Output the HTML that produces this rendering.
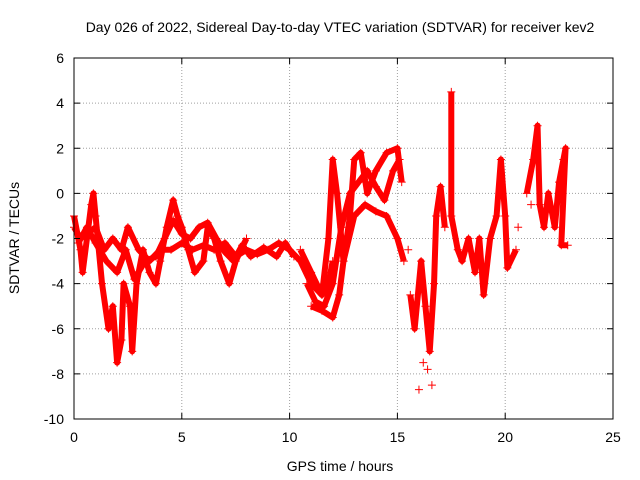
<!DOCTYPE html>
<html><head><meta charset="utf-8"><style>
body{margin:0;background:#fff;}
svg{display:block;font-family:"Liberation Sans",sans-serif;}
</style></head><body>
<svg id="chart" width="640" height="480">
<rect width="640" height="480" fill="#fff"/>
<text x="340" y="32" text-anchor="middle" font-size="14">Day 026 of 2022, Sidereal Day-to-day VTEC variation (SDTVAR) for receiver kev2</text>
<text x="340" y="471" text-anchor="middle" font-size="14">GPS time / hours</text>
<text transform="translate(19,238) rotate(-90)" text-anchor="middle" font-size="14">SDTVAR / TECUs</text>
<g id="grid"></g><g id="marks"></g><g id="axes"></g>
</svg>
<script>
const xTicks=[0,5,10,15,20,25];
const yTicks=[6,4,2,0,-2,-4,-6,-8,-10];
const trackATimes=[0,0.3,0.6,1.0,1.4,1.8,2.2,2.5,3.0,3.5,4.0,4.5,5.0,5.5,6.0,6.5,7.0,7.5,8.0,8.5,9.0,9.5,10.0,10.5,11.0,11.5,11.8,12.0];
const trackAValues=[-1.5,-2,-1.8,-1.5,-2.5,-2.0,-2.5,-1.5,-2.5,-3,-2.5,-2.5,-2.2,-2.5,-2.3,-2.5,-2.2,-2.8,-2.5,-2.7,-2.5,-2.2,-2.5,-3,-4,-4.5,-4,-3];
const trackBTimes=[0,0.3,0.4,0.6,0.8,0.9,1.0,1.3,1.6,1.8,2.0,2.2,2.3,2.6,2.7,2.9,3.2,3.5,3.8,4.0,4.3,4.6,4.8,5.0,5.3,5.6,6.0,6.2,6.5,6.8,7.2,7.5,8.0];
const trackBValues=[-1,-2.5,-3.5,-2,-0.5,0,-1,-4,-6,-5,-7.5,-6.5,-4,-5,-7,-4,-2.5,-3.5,-4,-3,-1.5,-0.3,-1,-1.5,-2.5,-3.5,-3,-1.5,-2,-3,-4,-3,-2];
const trackHTimes=[0.2,0.6,1.0,1.5,2.0,2.4,2.8,3.3,3.8,4.2,4.6,5.0,5.4,5.8,6.2,6.6,7.0,7.4,7.8,8.2,8.8,9.4,9.8,10.2];
const trackHValues=[-2.2,-1.5,-2.2,-3,-3.5,-2.5,-3.8,-3,-2.8,-2,-1.2,-1.8,-2,-1.5,-1.3,-2,-2.6,-3,-2.3,-2.8,-2.4,-2.8,-2.2,-2.8];
const trackCTimes=[10.5,11.0,11.5,11.8,12.0,12.2,12.5,12.8,13.0,13.3,13.6,14.0,14.5,15.0,15.2];
const trackCValues=[-2.5,-3.5,-4.5,-2,1.5,0,-3,-1,1.5,1.8,0,1,1.8,2,0.5];
const trackDTimes=[11.0,11.5,12.0,12.3,12.5,13.0,13.5,14.0,14.5,15.0,15.3];
const trackDValues=[-5,-5.2,-5.5,-4.5,-3,-1,-0.5,-0.8,-1,-2,-3];
const trackITimes=[10.8,11.2,11.6,12.0,12.4,12.8,13.2,13.6,14.0,14.4,14.8,15.1];
const trackIValues=[-4,-4.8,-5,-4,-1.5,0,0.5,1,0.3,-0.3,1,1.5];
const trackETimes=[15.6,15.8,16.1,16.3,16.5,16.7,16.8,17.0,17.2];
const trackEValues=[-4.5,-6,-3,-5,-7,-4,-1,0.3,-1.5];
const trackFTimes=[17.5,17.5,17.8,18.0,18.3,18.6,18.8,19.0,19.3,19.6,19.8,20.0,20.1,20.5];
const trackFValues=[4.5,-1,-2.5,-3,-2,-3.5,-2,-4.5,-2,-1,1.5,-1,-3.3,-2.5];
const trackGTimes=[21.0,21.3,21.5,21.6,21.8,22.0,22.3,22.5,22.7,22.8,22.6,22.9];
const trackGValues=[0,1.5,3,-0.5,-1.5,0,-1.5,0.5,1.5,2,-2.3,-2.3];
const scatterTimes=[16.0,16.6,16.4,16.2,20.6,21.2,15.5];
const scatterValues=[-8.7,-8.5,-7.8,-7.5,-1.5,-0.5,-2.5];

const L=74,R=613,T=58,B=419,xmin=0,xmax=25,ymin=-10,ymax=6;
const xs=v=>L+(v-xmin)/(xmax-xmin)*(R-L);
const ys=v=>B-(v-ymin)/(ymax-ymin)*(B-T);
const NS='http://www.w3.org/2000/svg';
const mk=(tag,attrs,parent)=>{const e=document.createElementNS(NS,tag);for(const k in attrs)e.setAttribute(k,attrs[k]);parent.appendChild(e);return e;};
const grid=document.getElementById('grid'),axes=document.getElementById('axes'),marks=document.getElementById('marks');
xTicks.forEach(t=>{
  const x=xs(t);
  if(t>xmin&&t<xmax){const g=mk('line',{x1:x,x2:x,y1:T,y2:B,stroke:'#a0a0a0','stroke-dasharray':'1,2'},grid);
  
  }
  mk('line',{x1:x,x2:x,y1:B,y2:B-6,stroke:'#000'},axes);
  mk('line',{x1:x,x2:x,y1:T,y2:T+6,stroke:'#000'},axes);
  const tx=mk('text',{x:x,y:B+23,'text-anchor':'middle','font-size':14},axes);tx.textContent=t;
  
  
});
yTicks.forEach(t=>{
  const y=ys(t);
  if(t>ymin&&t<ymax){const g=mk('line',{x1:L,x2:R,y1:y,y2:y,stroke:'#a0a0a0','stroke-dasharray':'1,2'},grid);
  
  }
  mk('line',{x1:L,x2:L+6,y1:y,y2:y,stroke:'#000'},axes);
  mk('line',{x1:R,x2:R-6,y1:y,y2:y,stroke:'#000'},axes);
  const tx=mk('text',{x:L-10,y:y+5,'text-anchor':'end','font-size':14},axes);tx.textContent=t;
  
  
});
const frame=mk('rect',{x:L,y:T,width:R-L,height:B-T,fill:'none',stroke:'#000'},axes);


function plus(x,y){const p=mk('path',{d:`M${x-4},${y}h8M${x},${y-4}v8`,stroke:'#f00','stroke-width':1},marks);
  
  }
function track(ts,vs,name){
  const pts=ts.map((t,i)=>xs(t)+','+ys(vs[i])).join(' ');
  const pl=mk('polyline',{points:pts,fill:'none',stroke:'#f00','stroke-width':6,'stroke-linejoin':'round'},marks);
  
  
  ts.forEach((t,i)=>plus(xs(t),ys(vs[i])));
}
track(trackATimes,trackAValues,'series-track-a');
track(trackBTimes,trackBValues,'series-track-b');
track(trackHTimes,trackHValues,'series-track-h');
track(trackCTimes,trackCValues,'series-track-c');
track(trackDTimes,trackDValues,'series-track-d');
track(trackITimes,trackIValues,'series-track-i');
track(trackETimes,trackEValues,'series-track-e');
track(trackFTimes,trackFValues,'series-track-f');
track(trackGTimes,trackGValues,'series-track-g');
scatterTimes.forEach((t,i)=>plus(xs(t),ys(scatterValues[i])));
</script>
</body></html>
